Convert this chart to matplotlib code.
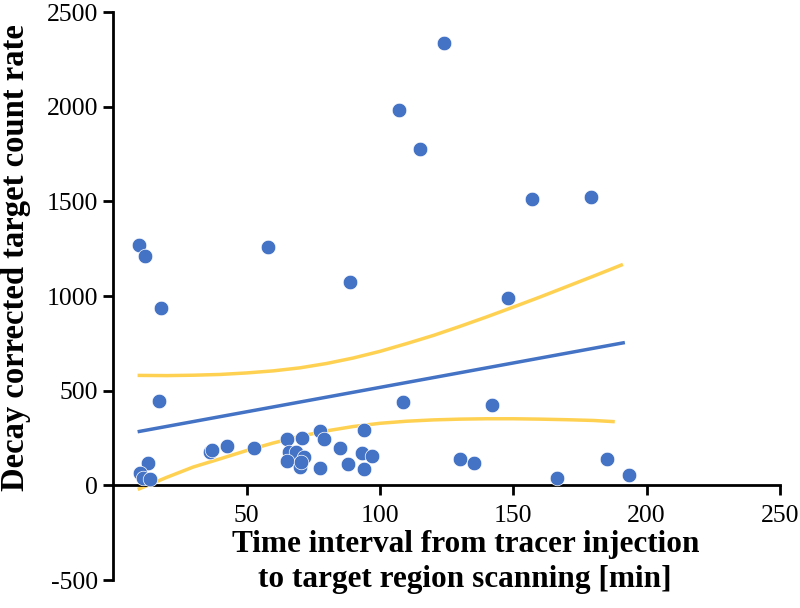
import matplotlib.pyplot as plt
import numpy as np

plt.rcParams["font.family"] = ["Liberation Serif", "DejaVu Serif"]
plt.rcParams["axes.unicode_minus"] = False

# time interval [min] and decay corrected target count rate
time_min = [124.0, 107.0, 115.1, 9.6, 12.0, 58.1, 88.8, 156.9, 179.0, 148.1,
            17.9, 17.1, 108.7, 142.1, 12.9, 10.0, 11.3, 13.8, 36.2, 37.2,
            42.7, 52.9, 65.0, 70.6, 77.7, 79.2, 85.0, 94.2, 93.1, 97.1,
            88.1, 94.2, 77.7, 66.0, 68.5, 71.5, 65.0, 70.0, 70.5, 130.1,
            135.2, 166.3, 185.2, 193.2]
count_rate = [2339, 1981, 1778, 1272, 1211, 1257, 1077, 1514, 1522, 991,
              938, 445, 442, 426, 120, 67, 40, 35, 176, 186,
              208, 195, 246, 251, 287, 243, 195, 290, 169, 155,
              111, 88, 93, 175, 178, 150, 130, 95, 125, 139,
              120, 37, 142, 56]

# regression line end points
fit_x = [9.8, 191.2]
fit_y = [285, 753]

# confidence band
upper_x = [9.8, 20, 30, 40, 50, 60, 70, 80, 90, 100, 110, 120, 130, 140,
           150, 160, 170, 180, 190.5]
upper_y = [581, 580, 582, 586, 594, 605, 621, 644, 673, 708, 749, 792, 840,
           890, 942, 995, 1050, 1105, 1164]
lower_x = [9.8, 20, 30, 40, 50, 60, 70, 80, 90, 100, 110, 120, 130, 140,
           150, 160, 170, 180, 187.4]
lower_y = [-18, 42, 97, 140, 184, 224, 259, 288, 311, 328, 339, 346, 350,
           352, 352, 350, 347, 343, 337]

blue = "#4472C4"
yellow = "#FFD152"

fig = plt.figure(figsize=(8, 6.08), dpi=100)
ax = fig.add_axes([0.1415, 0.046, 0.8335, 0.934])

ax.scatter(time_min, count_rate, s=110, color=blue, edgecolors="white",
           linewidths=0.5, zorder=3)
ax.plot(fit_x, fit_y, color=blue, lw=2.5, zorder=2)
ax.plot(upper_x, upper_y, color=yellow, lw=2.5, zorder=2)
ax.plot(lower_x, lower_y, color=yellow, lw=2.5, zorder=2)

ax.set_xlim(0, 250)
ax.set_ylim(-500, 2500)
ax.set_xticks([50, 100, 150, 200, 250])
ax.set_yticks(np.arange(-500, 2501, 500))

ax.spines["top"].set_visible(False)
ax.spines["right"].set_visible(False)
ax.spines["bottom"].set_position(("data", 0))
ax.spines["left"].set_linewidth(2)
ax.spines["bottom"].set_linewidth(2)
ax.tick_params(axis="both", direction="out", length=7, width=2,
               labelsize=18.5, pad=4)
ax.tick_params(axis="x", pad=7)

ax.set_ylabel("Decay corrected target count rate", fontsize=23.5,
              fontweight="bold")
ax.yaxis.set_label_coords(-0.124, 0.567)
ax.text(132, -405, "Time interval from tracer injection\n"
        "to target region scanning [min]", ha="center", va="center",
        fontsize=22.5, fontweight="bold", linespacing=1.3)

plt.savefig("out.png", dpi=100)
